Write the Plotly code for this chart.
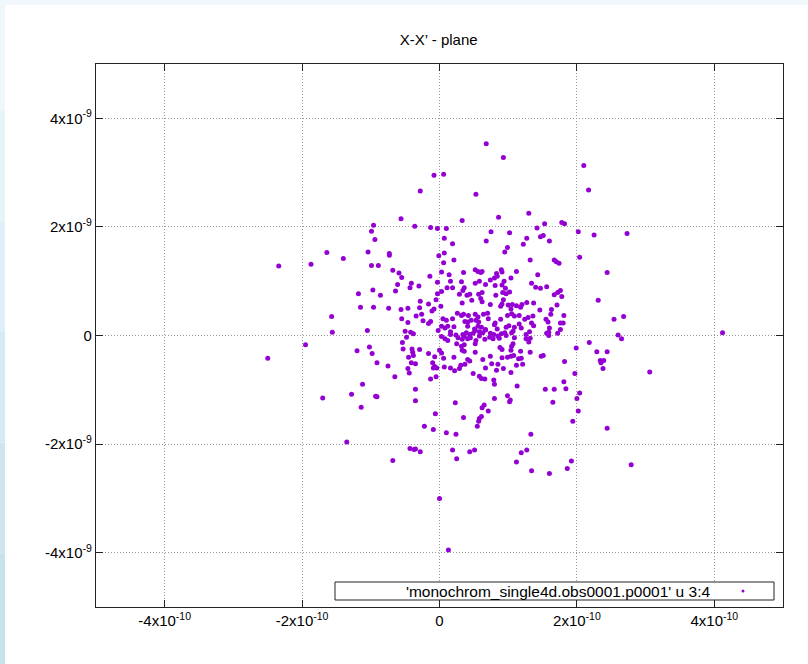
import numpy as np
import plotly.graph_objects as go

# Particle coordinates: x in units of 1e-10, x' in units of 1e-9
x_e10 = [
    -0.56, -0.96, -0.99, -0.94, -1.64, -1.40, -1.04, -0.73, -0.73, -2.34, -1.87, -0.99, -0.89, -0.68, -0.59, -0.55,
    -0.36, 0.68, 0.93, -0.08, 0.06, -0.28, 0.53, 1.30, 0.86, 0.33, -0.13, -0.03, 0.10, 1.53, 1.42, 1.78, 1.82,
    0.75, 1.02, 0.07, 1.27, 1.47, 1.51, 1.60, 0.68, 0.19, 1.22, 0.99, 0.95, -0.01, 0.07, 1.32, 1.67, 1.70, 1.74,
    0.21, 0.06, 0.52, 0.56, 0.60, 0.62, 0.90, 0.91, 0.83, 0.84, 1.12, 0.03, 0.35, 0.14, -0.14, 1.43, 1.04, 0.80,
    2.10, 2.17, 2.02, 2.25, 2.73, 2.04, 2.44,
    -0.61, -0.41, -0.43, -0.97, -1.18, -0.86, -0.64, -1.15, -0.96, -0.74, -0.56, -0.46, -1.57, -0.55, -0.46, -1.05,
    -1.56, -0.50, -0.42, -0.38, -0.48, -1.95, -0.54, -0.53, -0.40, -1.02, -1.20, -0.98, -0.39, -0.38, -0.45, -2.50,
    -0.41, -0.91, -0.75, -0.46, -0.44, -0.65, -1.12, -1.28, -0.93, -0.91, -1.70, -1.14,
    -1.35, -0.68, -0.43, -0.37,
    -0.09, 0.10, 0.24, 1.33, -0.35, -0.28, 0.19, 0.25, 0.44, 0.51, 1.12, 1.19, 1.27, 1.34, 1.60, 1.86, 1.92,
    0.00, 0.13, 2.79,
    2.31, 2.54, 2.68, 2.60, 2.65, 4.12, 2.18, 1.99, 2.29, 2.44, 2.34, 2.39, 2.35, 2.38, 3.06, 1.97, 2.04, 2.00,
    2.02, 2.44,
    -0.30, -0.03, 0.11, 0.16, 0.19, 0.32, 0.36, 0.34, 0.52, 0.58, 0.67, 0.74, 0.81, 0.91, 0.94, 0.96, 0.92, 0.97,
    1.02, 1.34, 1.40, 1.47, 1.56, 1.76, 1.72, 1.67, 1.78, -0.03, 0.03, 0.29, 0.40, 0.44, 0.57, 0.62, 0.82,
    -0.28, -0.16, -0.05, 0.33, 0.47, 0.60, 0.62, 0.74, 0.91, 0.89, 0.93, -0.29, -0.11, -0.08, 0.02, 1.00, 1.04,
    1.06, 1.12, 1.18, 1.20, 1.27, 1.37, 1.46, 1.63, 1.62, 1.71, -0.26, -0.24, -0.13, -0.16, -0.34, 0.05, 0.10,
    0.19, 0.26, 0.32, 0.35, 0.42, 0.52, 0.56, 0.64, 0.70, 0.37, 0.41, 0.46, 0.53, 0.57, 0.71, 0.81, 0.89, 0.99,
    1.05, 1.09, 1.16, 1.24, 1.29, 1.36, 1.55, 1.58, 1.76, 1.80, 1.81, 0.03, 0.08, 0.12, 0.21, 0.41, 0.51, 0.56,
    0.61, 0.67, 0.80, 0.84, 0.97, 1.01, 1.09, 1.16, 1.19, 1.34, 1.37, 1.60, 1.59, 1.56, 1.76, -0.02, 0.16, 0.16,
    0.24, 0.34, 0.39, 0.44, 0.49, 0.52, 0.58, 0.63, 0.67, 0.74, 0.79, 0.85, 0.90, 0.95, 0.97, 1.05, 1.07, 1.26,
    1.31, 1.72, 1.59, 0.03, 0.08, 0.12, 0.27, 0.33, 0.36, 0.41, 0.45, 0.53, 0.58, 0.66, 0.73, 0.78, 0.87, 1.09,
    1.07, 1.26, 1.30, 1.32, 0.25, 0.32, 0.36, 0.52, -0.29, 0.00, 0.03, -0.16, 0.33, 0.36, 0.52, 0.88, 0.91, 1.05,
    1.04, 1.18, 1.32, 1.48, 1.51, -0.07, 0.06, 0.21, 0.41, 0.44, 0.63, 0.74, 0.91, 0.99, 1.04, 1.08, 1.15, 1.19,
    1.82, -0.35, -0.10, -0.07, -0.04, -0.09, 0.07, 0.16, 0.22, 0.29, 0.31, 0.37, 0.67, 0.76, 0.85, 0.93, 0.83,
    1.12, 1.21, 1.04, 0.49, 0.58, 0.61, 0.66, -0.05, -0.13, 0.79, 0.80, -0.35, 1.13, 1.54, 1.67, 1.81, 1.84,
    -0.35, 0.80, 0.99, 1.03, 1.02, 1.65, 0.23, 0.65, 0.62, 0.71, -0.06, 0.61, 0.58, 0.57, 0.55, 0.35, 1.94, -0.22,
]
xp_e9 = [
    2.15, 2.03, 1.92, 1.77, 1.53, 1.42, 1.54, 1.51, 1.48, 1.28, 1.31, 1.29, 1.29, 1.20, 1.15, 1.07,
    2.01, 3.53, 3.28, 2.95, 2.97, 2.66, 2.60, 2.25, 2.18, 2.12, 1.99, 1.97, 1.97, 2.06, 1.98, 2.08, 2.06,
    1.91, 1.89, 1.79, 1.79, 1.82, 1.84, 1.74, 1.74, 1.69, 1.68, 1.62, 1.54, 1.47, 1.52, 1.39, 1.39, 1.36, 1.33,
    1.39, 1.34, 1.21, 1.18, 1.16, 1.18, 1.21, 1.17, 1.14, 1.09, 1.18, 1.17, 1.16, 1.12, 1.09, 1.12, 1.06, 1.06,
    3.13, 2.68, 1.91, 1.85, 1.88, 1.44, 1.16,
    0.94, 0.96, 0.88, 0.84, 0.77, 0.74, 0.82, 0.52, 0.52, 0.50, 0.48, 0.50, 0.35, 0.31, 0.24, 0.09,
    0.06, 0.08, 0.06, 0.03, -0.03, -0.17, -0.13, -0.25, -0.25, -0.21, -0.28, -0.33, -0.31, -0.37, -0.40, -0.42,
    -0.50, -0.50, -0.56, -0.61, -0.69, -0.76, -0.90, -1.08, -1.12, -1.13, -1.15, -1.32,
    -1.96, -2.30, -2.08, -2.10,
    -1.73, -1.79, -1.82, -1.82, -2.09, -2.14, -2.11, -2.27, -2.14, -2.11, -2.33, -2.16, -2.11, -2.49, -2.54, -2.45, -2.31,
    -3.00, -3.95, -2.38,
    0.65, 0.30, 0.35, 0.01, -0.06, 0.05, -0.13, -0.23, -0.30, -0.30, -0.46, -0.46, -0.50, -0.61, -0.67, -0.70, -1.06, -1.16,
    -1.39, -1.71,
    0.91, 0.98, 0.88, 1.00, 0.88, 0.99, 0.88, 0.83, 0.96, 1.00, 0.94, 1.02, 0.92, 0.93, 1.00, 0.87, 0.79, 0.77,
    0.80, 0.96, 0.89, 0.87, 0.90, 0.83, 0.79, 0.75, 0.72, 0.77, 0.81, 0.76, 0.74, 0.76, 0.76, 0.79, 0.74,
    0.63, 0.58, 0.66, 0.60, 0.65, 0.68, 0.62, 0.57, 0.58, 0.54, 0.66, 0.51, 0.45, 0.49, 0.54, 0.56, 0.49,
    0.57, 0.55, 0.52, 0.57, 0.61, 0.60, 0.47, 0.48, 0.39, 0.56, 0.39, 0.27, 0.26, 0.22, 0.36, 0.31, 0.28,
    0.31, 0.41, 0.37, 0.39, 0.37, 0.39, 0.34, 0.39, 0.41, 0.26, 0.25, 0.28, 0.28, 0.25, 0.31, 0.23, 0.30, 0.37,
    0.40, 0.36, 0.37, 0.30, 0.33, 0.36, 0.30, 0.25, 0.23, 0.23, 0.37, 0.17, 0.14, 0.17, 0.16, 0.17, 0.12, 0.17,
    0.15, 0.11, 0.20, 0.12, 0.15, 0.18, 0.15, 0.21, 0.14, 0.23, 0.18, 0.14, 0.06, 0.04, 0.11, 0.09, 0.07, 0.02,
    0.01, 0.02, 0.05, 0.02, 0.04, 0.09, 0.07, 0.05, 0.10, 0.04, 0.02, -0.01, 0.03, 0.05, 0.00, 0.05, 0.08, 0.02,
    0.07, 0.04, 0.00, -0.02, -0.06, -0.09, -0.04, -0.07, -0.02, -0.06, -0.04, -0.09, -0.01, -0.07, -0.03, -0.06, -0.05, -0.04,
    -0.15, -0.06, -0.12, -0.05, -0.15, -0.20, -0.17, -0.15, -0.26, -0.27, -0.32, -0.33, -0.27, -0.29, -0.31, -0.22, -0.26, -0.20,
    -0.27, -0.29, -0.31, -0.38, -0.37, -0.39, -0.42, -0.40, -0.44, -0.47, -0.44, -0.38, -0.41, -0.40, -0.38, -0.37, -0.43, -0.42,
    -0.48, -0.52, -0.50, -0.57, -0.60, -0.60, -0.58, -0.60, -0.65, -0.61, -0.55, -0.53, -0.60, -0.52, -0.53, -0.61, -0.64,
    -0.55, -0.53, -0.68, -0.70, -0.75, -0.79, -0.80, -0.76, -0.80, -0.82, -0.90, -0.99, -0.93, -0.99, -0.99, -0.85, -0.98,
    -1.20, -1.16, -1.11, -1.19, -1.22, -1.23, -1.24, -1.28, -1.33, -1.39, -1.44, -1.49, -1.53, -1.58, -1.67, -1.51, -1.58, -1.67,
]

x_vals = np.array(x_e10) * 1e-10
xp_vals = np.array(xp_e9) * 1e-9

x_ticks = [-4e-10, -2e-10, 0, 2e-10, 4e-10]
x_ticktext = ["-4x10<sup>-10</sup>", "-2x10<sup>-10</sup>", "0", "2x10<sup>-10</sup>", "4x10<sup>-10</sup>"]
y_ticks = [-4e-9, -2e-9, 0, 2e-9, 4e-9]
y_ticktext = ["-4x10<sup>-9</sup>", "-2x10<sup>-9</sup>", "0", "2x10<sup>-9</sup>", "4x10<sup>-9</sup>"]

title_text = "X-X’ - plane"
series_name = "'monochrom_single4d.obs0001.p0001' u 3:4"

PURPLE = "#9400D3"
FONT = "Liberation Sans, Arial, Helvetica, sans-serif"

fig = go.Figure()
fig.add_trace(go.Scatter(
    x=x_vals, y=xp_vals, mode="markers", name=series_name,
    marker=dict(color=PURPLE, size=5, line=dict(width=0)),
    showlegend=False,
))

axis_common = dict(
    showgrid=True, gridcolor="#9a9a9a", gridwidth=1, griddash="1px,2px",
    zeroline=False, showline=True, linecolor="#222222", linewidth=1.3,
    mirror="ticks", ticks="inside", ticklen=7, tickcolor="#222222", tickwidth=1,
    tickfont=dict(family=FONT, size=15, color="black"),
)

fig.update_layout(
    width=808, height=664,
    margin=dict(l=96, r=25, t=64, b=57),
    paper_bgcolor="white", plot_bgcolor="white",
    title=dict(text=title_text, x=0.5430, xanchor="center", y=1 - 40 / 664, yanchor="middle",
               yref="container", font=dict(family=FONT, size=15, color="black")),
    xaxis=dict(range=[-5e-10, 5e-10], tickvals=x_ticks, ticktext=x_ticktext, **axis_common),
    yaxis=dict(range=[-5e-9, 5e-9], tickvals=y_ticks, ticktext=y_ticktext, **axis_common),
)

# Convert figure pixels to paper coordinates of the plot area
PL, PR, PT, PB = 96, 783, 64, 607


def px_x(px):
    return (px - PL) / (PR - PL)


def px_y(py):
    return (PB - py) / (PB - PT)


# Window-edge tint down the left side (light at the top, deeper towards the bottom)
edge_tints = ["#eef7fb", "#e6f3f8", "#deeff5", "#d6eaf2", "#cfe6ef", "#c8e2ec"]
band = 664 / len(edge_tints)
for i, tint in enumerate(edge_tints):
    fig.add_shape(type="rect", xref="paper", yref="paper", x0=px_x(0), x1=px_x(5),
                  y0=px_y(band * (i + 1)), y1=px_y(band * i),
                  fillcolor=tint, line=dict(width=0), layer="below")
fig.add_shape(type="rect", xref="paper", yref="paper", x0=px_x(0), x1=px_x(808), y0=px_y(5), y1=px_y(0),
              fillcolor="#f0f8fb", line=dict(width=0), layer="below")

# Key box in the lower right of the plot
fig.add_shape(type="rect", xref="paper", yref="paper", x0=px_x(335), x1=px_x(774), y0=px_y(600), y1=px_y(582),
              fillcolor="white", line=dict(color="#222222", width=1))
fig.add_annotation(xref="paper", yref="paper", x=px_x(712), y=px_y(591), xanchor="right", yanchor="middle",
                   text=series_name, showarrow=False, font=dict(family=FONT, size=15.5, color="black"))
fig.add_shape(type="circle", xref="paper", yref="paper", x0=px_x(741.5), x1=px_x(744.5),
              y0=px_y(592.5), y1=px_y(589.5), fillcolor=PURPLE, line=dict(width=0))

fig.write_html("out.html")
